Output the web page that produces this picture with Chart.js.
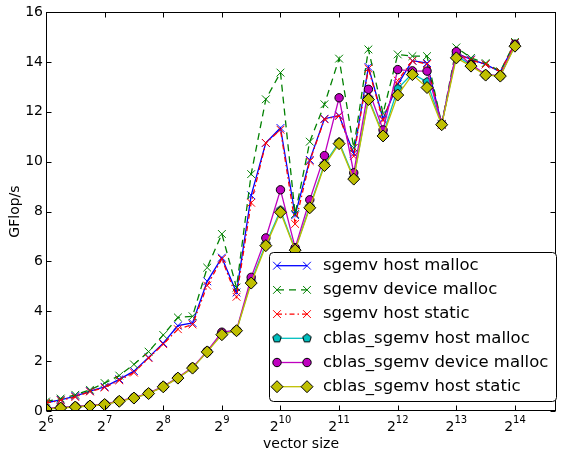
<!DOCTYPE html>
<html>
<head>
<meta charset="utf-8">
<script src="https://cdn.jsdelivr.net/npm/chart.js@4/dist/chart.umd.min.js"></script>
<style>
  html, body { margin: 0; padding: 0; background: #fff; }
  #wrap { width: 563px; height: 452px; }
</style>
</head>
<body>
<div id="wrap"><canvas id="myChart" width="563" height="452"></canvas></div>
<script>
// log2 of the vector size, quarter-octave steps
const exps = [6, 6.25, 6.5, 6.75, 7, 7.25, 7.5, 7.75, 8, 8.25, 8.5, 8.75, 9, 9.25, 9.5, 9.75,
              10, 10.25, 10.5, 10.75, 11, 11.25, 11.5, 11.75, 12, 12.25, 12.5, 12.75, 13, 13.25, 13.5, 13.75, 14];
const xTicks = [6, 7, 8, 9, 10, 11, 12, 13, 14];
const yTicks = [0, 2, 4, 6, 8, 10, 12, 14, 16];

const labels = [
    'sgemv host malloc',
    'sgemv device malloc',
    'sgemv host static',
    'cblas_sgemv host malloc',
    'cblas_sgemv device malloc',
    'cblas_sgemv host static'
];

// GFlop/s
const sgemvHostMalloc = [0.33, 0.45, 0.6, 0.8, 0.97, 1.27, 1.6, 2.15, 2.72, 3.42, 3.53, 5.2, 6.15, 4.75, 8.65, 10.75,
    11.35, 7.85, 10.07, 11.72, 11.85, 10.32, 13.8, 11.72, 13.1, 14.05, 13.95, 11.5, 14.35, 14.1, 13.9, 13.6, 14.75];
const sgemvDeviceMalloc = [0.38, 0.5, 0.65, 0.85, 1.12, 1.42, 1.87, 2.38, 3.05, 3.75, 3.8, 5.75, 7.1, 4.95, 9.5, 12.5,
    13.57, 7.9, 10.8, 12.3, 14.13, 10.55, 14.5, 11.93, 14.3, 14.23, 14.23, 11.5, 14.58, 14.16, 13.95, 13.62, 14.8];
const sgemvHostStatic = [0.32, 0.43, 0.56, 0.78, 0.94, 1.23, 1.54, 2.12, 2.68, 3.28, 3.47, 5.03, 6.1, 4.58, 8.35, 10.75,
    11.28, 7.5, 10.02, 11.7, 11.83, 10.22, 13.73, 11.66, 13.25, 14.04, 13.91, 11.48, 14.34, 14.07, 13.9, 13.6, 14.75];
const cblasHostMalloc = [0.09, 0.13, 0.17, 0.21, 0.27, 0.4, 0.53, 0.71, 0.98, 1.33, 1.73, 2.38, 3.1, 3.23, 5.2, 6.7,
    8.05, 6.48, 8.2, 9.9, 10.78, 9.35, 12.55, 11.08, 12.93, 13.53, 13.2, 11.5, 14.25, 13.87, 13.48, 13.44, 14.66];
const cblasDeviceMalloc = [0.1, 0.14, 0.18, 0.22, 0.28, 0.41, 0.54, 0.72, 0.99, 1.34, 1.75, 2.4, 3.16, 3.24, 5.36, 6.94,
    8.87, 6.55, 8.47, 10.24, 12.56, 9.55, 12.9, 11.27, 13.69, 13.64, 13.63, 11.5, 14.41, 13.9, 13.49, 13.45, 14.71];
const cblasHostStatic = [0.08, 0.12, 0.16, 0.2, 0.26, 0.39, 0.52, 0.7, 0.97, 1.32, 1.72, 2.37, 3.06, 3.22, 5.13, 6.63,
    7.97, 6.45, 8.15, 9.84, 10.72, 9.3, 12.49, 11.03, 12.67, 13.49, 12.97, 11.48, 14.16, 13.83, 13.47, 13.43, 14.63];

const FONT = "'DejaVu Sans', 'Liberation Sans', sans-serif";

// pentagon marker as an image pointStyle
function pentagon(fill, r) {
    const c = document.createElement('canvas');
    const s = Math.ceil(r * 2 + 3);
    c.width = s; c.height = s;
    const g = c.getContext('2d');
    g.beginPath();
    for (let i = 0; i < 5; i++) {
        const a = -Math.PI / 2 + i * 2 * Math.PI / 5;
        const px = s / 2 + r * Math.cos(a), py = s / 2 + r * Math.sin(a);
        if (i === 0) g.moveTo(px, py); else g.lineTo(px, py);
    }
    g.closePath();
    g.fillStyle = fill;
    g.fill();
    g.lineWidth = 1;
    g.strokeStyle = '#000';
    g.stroke();
    return c;
}

function points(vals) {
    return exps.map((e, i) => ({ x: e, y: vals[i] }));
}

const series = [
    { vals: sgemvHostMalloc, color: '#0000ff', dash: [], style: 'crossRot', radius: 5.5, order: 5, edge: '#0000ff' },
    { vals: sgemvDeviceMalloc, color: '#008000', dash: [7, 5], style: 'crossRot', radius: 5.5, order: 4, edge: '#008000' },
    { vals: sgemvHostStatic, color: '#ff0000', dash: [5, 3, 1.5, 3], style: 'crossRot', radius: 5.5, order: 3, edge: '#ff0000' },
    { vals: cblasHostMalloc, color: '#00bfbf', dash: [], style: pentagon('#00bfbf', 4.5), radius: 4.5, order: 2, edge: '#000' },
    { vals: cblasDeviceMalloc, color: '#bf00bf', dash: [], style: 'circle', radius: 4.2, order: 1, edge: '#000' },
    { vals: cblasHostStatic, color: '#bfbf00', dash: [], style: 'rectRot', radius: 6, order: 0, edge: '#000' }
];

const datasets = series.map((s, i) => ({
    label: labels[i],
    data: points(s.vals),
    borderColor: s.color,
    borderWidth: 1.3,
    borderDash: s.dash,
    backgroundColor: s.color,
    pointStyle: s.style,
    pointRadius: s.radius,
    pointBorderColor: s.edge,
    pointBackgroundColor: s.color,
    pointBorderWidth: 1,
    tension: 0,
    order: s.order
}));

const axesDecor = {
    id: 'axesDecor',
    afterDraw(chart) {
        const ctx = chart.ctx;
        const a = chart.chartArea;
        const xs = chart.scales.x, ys = chart.scales.y;
        const L = Math.round(a.left) + 0.5, R = Math.round(a.right) - 0.5;
        const T = Math.round(a.top) + 0.5, B = Math.round(a.bottom) - 0.5;
        ctx.save();
        ctx.strokeStyle = '#000';
        ctx.lineWidth = 1;
        ctx.strokeRect(L, T, R - L, B - T);

        // inward ticks on all four sides
        ctx.beginPath();
        yTicks.forEach(v => {
            const y = Math.round(ys.getPixelForValue(v)) + 0.5;
            ctx.moveTo(L, y); ctx.lineTo(L + 5, y);
            ctx.moveTo(R, y); ctx.lineTo(R - 5, y);
        });
        xTicks.forEach(n => {
            const x = Math.round(xs.getPixelForValue(n)) + 0.5;
            ctx.moveTo(x, B); ctx.lineTo(x, B - 5);
            ctx.moveTo(x, T); ctx.lineTo(x, T + 5);
        });
        ctx.stroke();

        // 2^n labels
        ctx.fillStyle = '#000';
        ctx.textBaseline = 'alphabetic';
        xTicks.forEach(n => {
            const x = xs.getPixelForValue(n);
            ctx.font = '14px ' + FONT;
            const wb = ctx.measureText('2').width;
            ctx.font = '10px ' + FONT;
            const we = ctx.measureText(String(n)).width;
            const x0 = x - (wb + we) / 2;
            ctx.font = '14px ' + FONT;
            ctx.textAlign = 'left';
            ctx.fillText('2', x0, 431);
            ctx.font = '10px ' + FONT;
            ctx.fillText(String(n), x0 + wb, 423);
        });

        // axis titles
        ctx.font = '14px ' + FONT;
        ctx.textAlign = 'center';
        ctx.fillText('vector size', (a.left + a.right) / 2, 448);
        ctx.save();
        ctx.translate(15, (a.top + a.bottom) / 2);
        ctx.rotate(-Math.PI / 2);
        ctx.textBaseline = 'middle';
        ctx.fillText('GFlop/s', 0, 0);
        ctx.restore();

        // legend
        const bx = 269.5, by = 252.5, bw = 287, bh = 149, rr = 4;
        ctx.beginPath();
        ctx.moveTo(bx + rr, by);
        ctx.arcTo(bx + bw, by, bx + bw, by + bh, rr);
        ctx.arcTo(bx + bw, by + bh, bx, by + bh, rr);
        ctx.arcTo(bx, by + bh, bx, by, rr);
        ctx.arcTo(bx, by, bx + bw, by, rr);
        ctx.closePath();
        ctx.fillStyle = '#fff';
        ctx.fill();
        ctx.strokeStyle = '#000';
        ctx.stroke();

        series.forEach((s, i) => {
            const y = 265.7 + i * 24.2;
            ctx.save();
            ctx.strokeStyle = s.color;
            ctx.lineWidth = 1.3;
            ctx.setLineDash(s.dash);
            ctx.beginPath();
            ctx.moveTo(277, y); ctx.lineTo(307, y);
            ctx.stroke();
            ctx.setLineDash([]);
            ctx.fillStyle = s.color;
            ctx.strokeStyle = s.edge;
            ctx.lineWidth = 1;
            [277, 307].forEach(px => {
                Chart.helpers.drawPoint(ctx, { pointStyle: s.style, radius: s.radius, rotation: 0, borderWidth: 1 }, px, y);
            });
            ctx.restore();
            ctx.fillStyle = '#000';
            ctx.font = '16.5px ' + FONT;
            ctx.textAlign = 'left';
            ctx.textBaseline = 'middle';
            ctx.fillText(labels[i], 323, y);
        });
        ctx.restore();
    }
};

const ctx = document.getElementById('myChart').getContext('2d');
const myChart = new Chart(ctx, {
    type: 'line',
    data: { datasets: datasets },
    options: {
        responsive: false,
        animation: false,
        events: [],
        layout: { padding: { top: 12, right: 2, left: 0, bottom: 0 } },
        plugins: { legend: { display: false }, tooltip: { enabled: false } },
        scales: {
            x: {
                type: 'linear',
                min: 6,
                max: 14.7,
                ticks: { display: false },
                grid: { display: false, drawTicks: false },
                border: { display: false },
                afterFit(scale) { scale.height = 41; }
            },
            y: {
                min: 0,
                max: 16,
                ticks: {
                    stepSize: 2,
                    padding: 3,
                    color: '#000',
                    font: { family: FONT, size: 14 }
                },
                grid: { display: false, drawTicks: false },
                border: { display: false },
                afterFit(scale) { scale.width = 46; }
            }
        }
    },
    plugins: [axesDecor]
});
</script>
</body>
</html>
